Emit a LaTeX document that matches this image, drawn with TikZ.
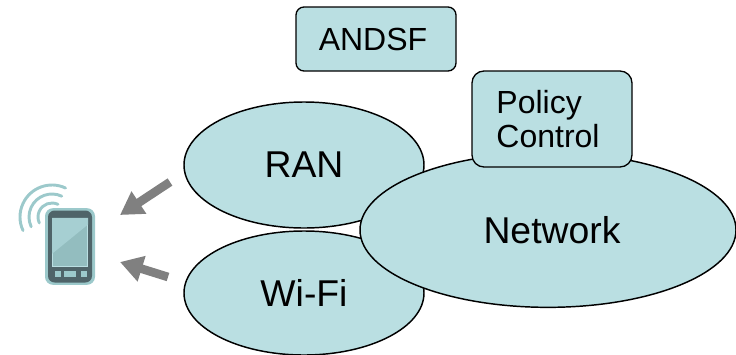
\documentclass[tikz,border=0pt]{standalone}
\usepackage{fontspec}
\setmainfont{Liberation Sans}
\usepackage{xcolor}
\definecolor{paleteal}{HTML}{BADFE2}
\definecolor{phonedark}{HTML}{4F6469}
\definecolor{phoneedge}{HTML}{9CC9CB}
\definecolor{screenteal}{HTML}{93BDBF}
\definecolor{screenlight}{HTML}{A6CFD2}
\definecolor{arrowgray}{HTML}{808080}
\usetikzlibrary{shapes,arrows.meta}
\tikzset{
    x=0.75pt,y=-0.75pt,
    cloud/.style ={ellipse, draw=black, fill=paleteal, line width=1.1pt, inner sep=0pt, font=\fontsize{28}{30}\selectfont},
    box/.style = {rectangle, draw=black, fill=paleteal, line width=1pt, inner sep=0pt, minimum width=120pt},
    signal/.style = {-{Triangle[length=17pt,width=19pt]}, arrowgray, line width=6.5pt},
    wave/.style = {phoneedge, line width=2.2pt, line cap=round},
    key/.style = {phonedark, fill=phoneedge, inner sep=0pt}
}

\begin{document}
\begin{tikzpicture}
      \useasboundingbox (0,0) rectangle (736,354);
      \node[cloud, minimum width=180pt, minimum height=94.5pt] (RAN) at (304,165) {RAN};
      \node[cloud, minimum width=180pt, minimum height=93pt] (WiFi) at (304,293) {Wi-Fi};
      \node[cloud, minimum width=282pt, minimum height=116pt] (Network) at (548,230) {\hspace*{6pt}Network};
      \node[box, rounded corners=6pt, minimum height=48pt, font=\fontsize{24}{26}\selectfont] (ANDSF) at (376,39) {\hspace*{-4.5pt}ANDSF};
      \node[box, rounded corners=9pt, minimum height=72pt, font=\fontsize{24}{25.5}\selectfont, align=left] (Policy) at (552,119) {\hspace*{-6pt}Policy\\\hspace*{-6pt}Control};

      % handset
      \node[rectangle, rounded corners=6pt, fill=phoneedge, minimum width=37.5pt, minimum height=57.5pt, inner sep=0pt] (Handset) at (70,246.5) {};
      \node[rectangle, rounded corners=5pt, fill=phonedark, minimum width=33pt, minimum height=54pt, inner sep=0pt] (Body) at (70,246.5) {};
      \node[rectangle, draw=paleteal, line width=1pt, fill=screenteal, minimum width=26pt, minimum height=36pt, inner sep=0pt] (Screen) at (70,242.5) {};
      \fill[screenlight] (Screen.north west) -- (Screen.north east) -- ([yshift=-5pt]Screen.north east) -- ([yshift=-27pt]Screen.north west) -- cycle;
      \node[key, minimum width=4pt, minimum height=4.5pt] (KeyA) at (58,273.5) {};
      \node[key, minimum width=9pt, minimum height=4.5pt] (KeyB) at (70,273.5) {};
      \node[key, minimum width=4pt, minimum height=4.5pt] (KeyC) at (84,273.5) {};

      % waves
      \coordinate (Source) at (52,217);
      \draw[wave] (Source) ++(-65:32) arc (-65:-205:32);
      \draw[wave] (Source) ++(-65:23) arc (-65:-205:23);
      \draw[wave] (Source) ++(-65:14) arc (-65:-205:14);

      % arrows
      \coordinate (PhoneA) at (120,215);
      \coordinate (PhoneB) at (120,262);
      \coordinate (RanEnd) at (170,182);
      \coordinate (WifiEnd) at (168,277);
      \draw[signal] (RanEnd) -- (PhoneA);
      \draw[signal] (WifiEnd) -- (PhoneB);
    \end{tikzpicture}
\end{document}
